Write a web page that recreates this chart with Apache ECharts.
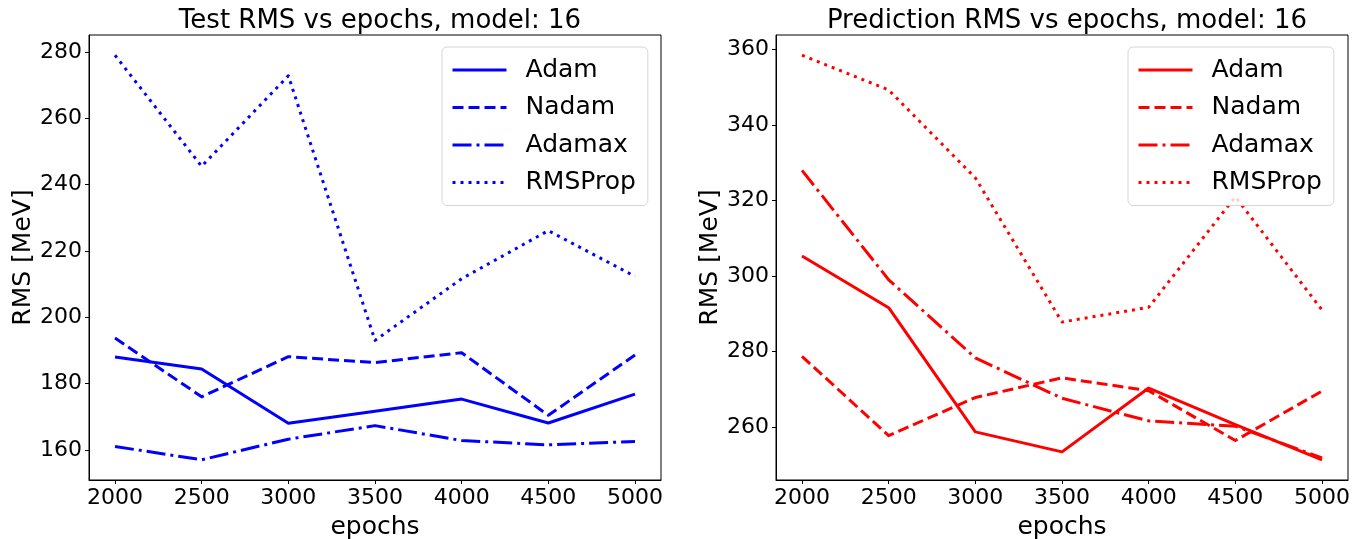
<!DOCTYPE html>
<html>
<head>
<meta charset="utf-8">
<script src="https://cdn.jsdelivr.net/npm/echarts@6/dist/echarts.min.js"></script>
<style>
  html, body { margin: 0; padding: 0; background: #fff; }
  #chart { width: 1369px; height: 539px; }
</style>
</head>
<body>
<div id="chart"></div>
<script>
// epochs on the x axis, shared by both panels
const epochs = [2000, 2500, 3000, 3500, 4000, 4500, 5000]
const xTicks = [2000, 2500, 3000, 3500, 4000, 4500, 5000]
const optimizers = ['Adam', 'Nadam', 'Adamax', 'RMSProp']

// left panel: test RMS [MeV]
const testAdam = [188.0, 184.4, 168.0, 171.6, 175.3, 168.1, 176.8]
const testNadam = [193.7, 176.0, 188.1, 186.3, 189.3, 170.4, 188.6]
const testAdamax = [161.0, 157.0, 163.2, 167.3, 162.8, 161.5, 162.5]
const testRmsprop = [279.0, 245.5, 272.8, 193.0, 211.6, 226.1, 212.3]
const testTicks = [160, 180, 200, 220, 240, 260, 280]

// right panel: prediction RMS [MeV]
const predAdam = [305.3, 291.6, 258.7, 253.4, 270.3, 260.6, 251.3]
const predNadam = [278.7, 257.7, 267.8, 273.0, 269.6, 256.4, 269.5]
const predAdamax = [328.0, 299.0, 278.3, 267.6, 261.6, 260.2, 251.8]
const predRmsprop = [358.5, 349.3, 326.0, 287.8, 291.7, 321.0, 291.0]
const predTicks = [260, 280, 300, 320, 340, 360]

const FONT = 'DejaVu Sans'
const LW = 3
// matplotlib-like dash patterns scaled by linewidth
const dashTypes = {
  Adam: 'solid',
  Nadam: [11, 5],
  Adamax: [19, 5, 3, 5],
  RMSProp: [3, 5]
}

// 5% margins like matplotlib autoscale
function limits (arrs) {
  const all = [].concat(...arrs)
  const lo = Math.min(...all)
  const hi = Math.max(...all)
  const m = (hi - lo) * 0.05
  return [lo - m, hi + m]
}

const GRID_TOP = 35
const GRID_H = 445
const GRID_W = 572
const grids = [
  { left: 89, top: GRID_TOP, width: GRID_W, height: GRID_H },
  { left: 776, top: GRID_TOP, width: GRID_W, height: GRID_H }
]

const testSets = [testAdam, testNadam, testAdamax, testRmsprop]
const predSets = [predAdam, predNadam, predAdamax, predRmsprop]
const testLim = limits(testSets)
const predLim = limits(predSets)

function xAxis (gi) {
  return {
    type: 'value',
    gridIndex: gi,
    min: 1850,
    max: 5150,
    name: 'epochs',
    nameLocation: 'middle',
    nameGap: 35,
    nameTextStyle: { fontFamily: FONT, fontSize: 25, color: '#000' },
    axisLine: { show: true, onZero: false, lineStyle: { color: '#000', width: 1 } },
    axisTick: { show: true, length: 4, lineStyle: { color: '#000', width: 1 }, customValues: xTicks },
    axisLabel: { fontFamily: FONT, fontSize: 22, color: '#000', margin: 7, customValues: xTicks, formatter: v => String(v) },
    splitLine: { show: false }
  }
}

function yAxis (gi, lim, ticks) {
  return {
    type: 'value',
    gridIndex: gi,
    min: lim[0],
    max: lim[1],
    name: 'RMS [MeV]',
    nameLocation: 'middle',
    nameGap: 53,
    nameTextStyle: { fontFamily: FONT, fontSize: 25, color: '#000' },
    axisLine: { show: true, onZero: false, lineStyle: { color: '#000', width: 1 } },
    axisTick: { show: true, length: 4, lineStyle: { color: '#000', width: 1 }, customValues: ticks },
    axisLabel: { fontFamily: FONT, fontSize: 22, color: '#000', margin: 7, customValues: ticks, formatter: v => String(v) },
    splitLine: { show: false }
  }
}

function makeSeries (prefix, gi, sets, color) {
  return optimizers.map((name, i) => ({
    name: prefix + ':' + name,
    type: 'line',
    xAxisIndex: gi,
    yAxisIndex: gi,
    data: epochs.map((e, j) => [e, sets[i][j]]),
    symbol: 'none',
    animation: false,
    lineStyle: { color, width: LW, type: dashTypes[name], cap: 'butt', join: 'round' },
    itemStyle: { color }
  }))
}

function legend (prefix, left) {
  return {
    orient: 'vertical',
    left,
    top: 47,
    data: optimizers.map(n => prefix + ':' + n),
    formatter: n => n.split(':')[1],
    itemWidth: 54,
    itemHeight: 14,
    itemGap: 11.5,
    padding: [10, 12, 10, 9],
    itemStyle: { opacity: 0 },
    lineStyle: { width: LW },
    backgroundColor: 'rgba(255,255,255,0.8)',
    borderColor: '#d6d6d6',
    borderWidth: 1,
    borderRadius: 5,
    textStyle: { fontFamily: FONT, fontSize: 25, color: '#000', lineHeight: 26, padding: [0, 0, 0, 14] }
  }
}

const chart = echarts.init(document.getElementById('chart'))
chart.setOption({
  animation: false,
  backgroundColor: '#fff',
  title: [
    {
      text: 'Test RMS vs epochs, model: 16',
      left: 375, top: 3, textAlign: 'center',
      textStyle: { fontFamily: FONT, fontSize: 26, fontWeight: 'normal', color: '#000' }
    },
    {
      text: 'Prediction RMS vs epochs, model: 16',
      left: 1062, top: 3, textAlign: 'center',
      textStyle: { fontFamily: FONT, fontSize: 26, fontWeight: 'normal', color: '#000' }
    }
  ],
  grid: grids.map(g => Object.assign({
    show: true, borderColor: '#000', borderWidth: 1, backgroundColor: 'transparent',
    containLabel: false, outerBoundsMode: 'none'
  }, g)),
  xAxis: [xAxis(0), xAxis(1)],
  yAxis: [yAxis(0, testLim, testTicks), yAxis(1, predLim, predTicks)],
  legend: [legend('test', 442), legend('pred', 1128)],
  series: [
    ...makeSeries('test', 0, testSets, '#0000ff'),
    ...makeSeries('pred', 1, predSets, '#ff0000')
  ]
})
</script>
</body>
</html>
